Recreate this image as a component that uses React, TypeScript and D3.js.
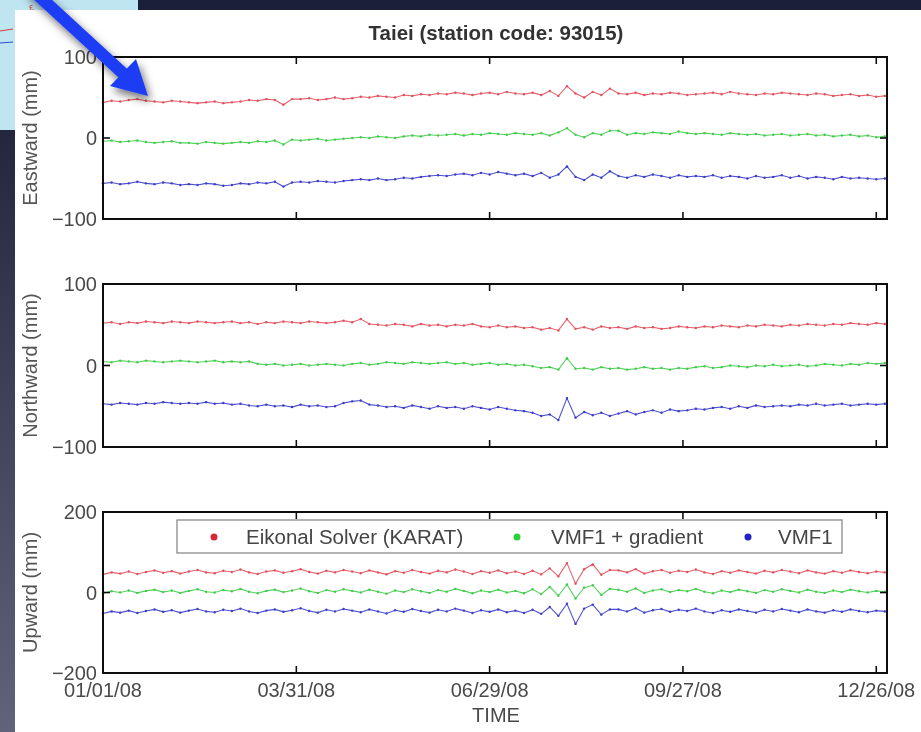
import React from "react";
import * as d3 from "d3";

// ---------- DATA (mm), one sample every 4 days from 01/01/08 ----------
const SAMPLE_STEP_DAYS = 4;
const START_DATE = "01/01/08";
const END_DATE = "12/31/08";

const TITLE = "Taiei (station code: 93015)";
const X_TITLE = "TIME";
const X_TICK_LABELS = ["01/01/08", "03/31/08", "06/29/08", "09/27/08", "12/26/08"];
const PANEL_LABELS = ["Eastward (mm)", "Northward (mm)", "Upward (mm)"];
const PANEL_TICKS = [[-100, 0, 100], [-100, 0, 100], [-200, 0, 200]];
const SERIES_NAMES = ["Eikonal Solver (KARAT)", "VMF1 + gradient", "VMF1"];

const EAST_RED = [
  44, 46, 45, 47, 48, 46, 45, 44, 46, 45,
  44, 43, 44, 45, 43, 44, 45, 47, 46, 48,
  47, 41, 48, 48, 49, 47, 48, 50, 48, 49,
  51, 50, 52, 51, 50, 53, 52, 54, 53, 55,
  54, 56, 55, 53, 55, 56, 54, 57, 55, 54,
  56, 53, 58, 52, 64, 55, 50, 57, 53, 61,
  55, 54, 56, 53, 55, 54, 56, 55, 53, 54,
  55, 56, 54, 57, 55, 54, 53, 55, 54, 56,
  55, 54, 53, 55, 54, 52, 53, 54, 52, 53,
  51, 52,
];
const EAST_GREEN = [
  -4, -3, -5, -4, -3, -5, -6, -5, -4, -6,
  -6, -7, -5, -6, -7, -6, -5, -6, -4, -5,
  -3, -8, -2, -3, -2, -1, -3, -2, -1, 0,
  1, 0, 2, 1, 0, 2, 3, 2, 4, 3,
  4, 5, 3, 5, 4, 6, 5, 4, 6, 5,
  4, 6, 3, 7, 12, 4, 1, 6, 4, 9,
  9, 4, 6, 5, 7, 6, 5, 8, 6, 5,
  6, 5, 4, 6, 5, 4, 5, 3, 4, 5,
  3, 4, 5, 3, 4, 2, 3, 4, 2, 3,
  1, 2,
];
const EAST_BLUE = [
  -56, -55, -57, -56, -54, -56, -57, -55, -56, -58,
  -57, -58, -56, -57, -59, -58, -56, -57, -55, -56,
  -54, -60, -55, -54, -55, -53, -54, -55, -53, -52,
  -51, -52, -50, -52, -51, -49, -50, -48, -47, -46,
  -47, -45, -44, -46, -43, -45, -42, -44, -46, -44,
  -47, -43, -49, -45, -35, -48, -52, -45, -49, -41,
  -47, -49, -46, -48, -45, -47, -49, -46, -48, -47,
  -48, -46, -49, -47, -48, -50, -47, -49, -48, -46,
  -49, -47, -50, -48, -49, -51, -48, -50, -49, -50,
  -51, -50,
];

const NORTH_RED = [
  52, 53, 51, 53, 52, 54, 53, 52, 54, 53,
  52, 54, 53, 52, 53, 54, 52, 53, 51, 53,
  52, 54, 53, 52, 54, 53, 52, 53, 55, 53,
  57, 51, 50, 49, 51, 50, 48, 51, 49, 50,
  48, 50, 49, 51, 48, 47, 49, 47, 48, 46,
  47, 44, 46, 43, 57, 45, 47, 44, 48, 46,
  47, 45, 48, 46, 47, 45, 46, 48, 47, 46,
  48, 47, 49, 48, 47, 49, 48, 50, 49, 48,
  50, 49, 51, 50, 49, 51, 50, 52, 51, 50,
  52, 51,
];
const NORTH_GREEN = [
  5, 4, 6, 5, 4, 6, 5, 4, 5, 6,
  5, 4, 5, 6, 4, 5, 4, 5, 2, 1,
  2, 0, 1, 2, 0, 1, 2, 1, 0, 2,
  3, 1, 2, 4, 3, 2, 4, 3, 2, 3,
  4, 2, 3, 1, 2, 3, 1, 2, 0, 1,
  -1, -3, -2, -5, 9, -4, -3, -5, -2, -4,
  -3, -5, -4, -2, -4, -3, -5, -3, -4, -2,
  -1, -3, -2, 0, -1, -2, 0, -1, 1, -1,
  0, 1, -1, 0, 2, 1, 0, 2, 1, 3,
  2, 3,
];
const NORTH_BLUE = [
  -47, -48, -46, -47, -48, -46, -47, -45, -46, -47,
  -46, -47, -45, -47, -46, -48, -47, -49, -50, -48,
  -50, -49, -51, -48, -50, -49, -51, -50, -46, -44,
  -43, -48, -49, -51, -50, -52, -49, -51, -53, -50,
  -52, -51, -53, -50, -52, -54, -51, -53, -55, -56,
  -58, -62, -60, -67, -40, -64, -57, -61, -58, -62,
  -59, -56, -60, -57, -55, -58, -54, -56, -55, -53,
  -54, -52, -51, -53, -50, -52, -49, -51, -50, -49,
  -50, -48, -49, -47, -49, -48, -47, -49, -48, -47,
  -48, -47,
];

const UP_RED = [
  45, 50, 47, 52, 46, 51, 55, 49, 53, 47,
  52, 56, 50, 48, 54, 51, 57, 50, 46, 52,
  55, 49, 53, 58, 51, 47, 54, 50, 56, 52,
  48, 55, 50, 45, 53, 49, 56, 51, 47, 54,
  50, 57, 52, 46, 53, 49, 55, 48, 52, 46,
  54, 45, 60, 40, 73, 22, 58, 70, 44, 56,
  55, 50, 58, 47, 53, 56, 49, 54, 51, 57,
  50, 46, 53, 49, 55, 51, 47, 54, 50, 56,
  52, 48, 55, 50, 47, 53, 49, 55, 51, 48,
  52, 50,
];
const UP_GREEN = [
  -2, 3, 0, 5, -1, 4, 7, 1, 5, -1,
  4, 8, 2, 0, 6, 3, 9, 2, -2, 4,
  7, 1, 5, 10, 3, -1, 6, 2, 8, 4,
  0, 7, 2, -3, 5, 1, 8, 3, -1, 6,
  2, 9, 4, -2, 5, 1, 7, 0, 4, -2,
  8, -4, 14, -8, 20, -15, 12, 18, -6, 9,
  7, 2, 10, -1, 5, 8, 1, 6, 3, 9,
  2, -2, 5, 1, 7, 3, -1, 6, 2, 8,
  4, 0, 7, 2, -1, 5, 1, 7, 3, 0,
  4, 2,
];
const UP_BLUE = [
  -52, -47, -50, -45, -51, -46, -42, -48, -44, -50,
  -45, -41, -47, -49, -43, -46, -40, -47, -51, -45,
  -42, -48, -44, -39, -46, -50, -43, -47, -41, -45,
  -49, -42, -47, -52, -44, -48, -41, -46, -50, -43,
  -47, -40, -45, -51, -44, -48, -42, -49, -45, -51,
  -43, -53, -36, -58, -28, -78, -40, -30, -55, -42,
  -42, -47, -39, -50, -44, -41, -48, -43, -46, -40,
  -47, -51, -44, -48, -42, -46, -50, -43, -47, -41,
  -45, -49, -42, -47, -50, -44, -48, -42, -46, -49,
  -45, -47,
];

const PANEL_SERIES = [
  [EAST_RED, EAST_GREEN, EAST_BLUE],
  [NORTH_RED, NORTH_GREEN, NORTH_BLUE],
  [UP_RED, UP_GREEN, UP_BLUE],
];

// ---------- LAYOUT / STYLE ----------
const W = 921;
const H = 732;
const PLOT_LEFT = 103;
const PLOT_RIGHT = 887;
const PANEL_BOXES = [
  { top: 57, bottom: 219 },
  { top: 284, bottom: 447 },
  { top: 512, bottom: 673 },
];
const LINE_COLORS = ["#e2505c", "#3fcc4a", "#3c3cca"];
const DOT_COLORS = ["#d42a38", "#2ad03a", "#2424c8"];
const FONT = "'Liberation Sans', Arial, Helvetica, sans-serif";
const TICK_LEN = 7;

const parseDate = d3.utcParse("%m/%d/%y");

export default function App() {
  const start = parseDate(START_DATE) as Date;
  const end = parseDate(END_DATE) as Date;
  const x = d3.scaleUtc().domain([start, end]).range([PLOT_LEFT, PLOT_RIGHT]);
  const dates = EAST_RED.map((_, i) => d3.utcDay.offset(start, i * SAMPLE_STEP_DAYS));
  const xTicks = X_TICK_LABELS.map((s) => parseDate(s) as Date);

  const arrowTip = [148, 96];
  const arrowBase = [123, 73];

  return (
    <svg
      width={W}
      height={H}
      viewBox={`0 0 ${W} ${H}`}
      style={{ position: "fixed", left: 0, top: 0, display: "block" }}
      fontFamily={FONT}
    >
      <defs>
        <linearGradient id="leftBand" x1="0" y1="0" x2="0" y2="1">
          <stop offset="0" stopColor="#23263f" />
          <stop offset="1" stopColor="#60637a" />
        </linearGradient>
        <filter id="soft" x="-5%" y="-5%" width="110%" height="110%">
          <feGaussianBlur stdDeviation="0.45" />
        </filter>
        <filter id="shadow" x="-50%" y="-50%" width="200%" height="200%">
          <feDropShadow dx="3" dy="5" stdDeviation="4" floodColor="#000" floodOpacity="0.55" />
        </filter>
      </defs>

      {/* slide background */}
      <rect x={0} y={0} width={W} height={H} fill="#ffffff" />
      <rect x={0} y={0} width={138} height={130} fill="#bfe5f1" />
      <line x1={0} y1={31} x2={13} y2={29} stroke="#d23a3a" strokeWidth={1} />
      <line x1={0} y1={43} x2={13} y2={42} stroke="#2a4ad0" strokeWidth={1} />
      <text x={30} y={11} fontSize={10} fill="#d23a3a" transform="rotate(-15 30 11)">ε</text>
      <rect x={138} y={0} width={W - 138} height={10} fill="#1c1f38" />
      <rect x={0} y={130} width={15} height={H - 130} fill="url(#leftBand)" />
      <rect x={15} y={10} width={W - 15} height={H - 10} fill="#ffffff" />

      <g filter="url(#soft)">
        <text x={496} y={40} textAnchor="middle" fontSize={20.5} fontWeight="bold" fill="#333">
          {TITLE}
        </text>

        {PANEL_BOXES.map((box, p) => {
          const ticks = PANEL_TICKS[p];
          const y = d3
            .scaleLinear()
            .domain([ticks[0], ticks[ticks.length - 1]])
            .range([box.bottom, box.top]);
          const line = d3
            .line<number>()
            .x((_, i) => x(dates[i]))
            .y((d) => y(d));
          const cy = (box.top + box.bottom) / 2;
          return (
            <g key={p}>
              {PANEL_SERIES[p].map((vals, s) => (
                <g key={s}>
                  <path d={line(vals) || ""} fill="none" stroke={LINE_COLORS[s]} strokeWidth={1.1} opacity={0.9} />
                  {vals.map((v, i) => (
                    <circle key={i} cx={x(dates[i])} cy={y(v)} r={1.2} fill={LINE_COLORS[s]} />
                  ))}
                </g>
              ))}

              {/* frame */}
              <rect
                x={PLOT_LEFT}
                y={box.top}
                width={PLOT_RIGHT - PLOT_LEFT}
                height={box.bottom - box.top}
                fill="none"
                stroke="#111"
                strokeWidth={2}
              />
              {/* x ticks (inward, top and bottom) */}
              {xTicks.map((t, i) => (
                <g key={i}>
                  <line x1={x(t)} x2={x(t)} y1={box.bottom} y2={box.bottom - TICK_LEN} stroke="#111" strokeWidth={1.6} />
                  <line x1={x(t)} x2={x(t)} y1={box.top} y2={box.top + TICK_LEN} stroke="#111" strokeWidth={1.6} />
                </g>
              ))}
              {/* y ticks (inward, left and right) + labels */}
              {ticks.map((t, i) => (
                <g key={i}>
                  <line x1={PLOT_LEFT} x2={PLOT_LEFT + TICK_LEN} y1={y(t)} y2={y(t)} stroke="#111" strokeWidth={1.6} />
                  <line x1={PLOT_RIGHT} x2={PLOT_RIGHT - TICK_LEN} y1={y(t)} y2={y(t)} stroke="#111" strokeWidth={1.6} />
                  <text x={97} y={y(t) + 7} textAnchor="end" fontSize={20} fill="#4a4a4a">
                    {d3.format("d")(t)}
                  </text>
                </g>
              ))}
              <text
                transform={`translate(37 ${cy}) rotate(-90)`}
                textAnchor="middle"
                fontSize={20}
                fill="#555"
              >
                {PANEL_LABELS[p]}
              </text>
            </g>
          );
        })}

        {/* x tick labels on bottom panel */}
        {xTicks.map((t, i) => (
          <text key={i} x={x(t)} y={697} textAnchor="middle" fontSize={20} fill="#4a4a4a">
            {X_TICK_LABELS[i]}
          </text>
        ))}
        <text x={496} y={722} textAnchor="middle" fontSize={20} fill="#4a4a4a">
          {X_TITLE}
        </text>

        {/* legend */}
        <rect x={177} y={520} width={665} height={33} fill="#fff" stroke="#8a8a8a" strokeWidth={1.3} />
        {SERIES_NAMES.map((name, i) => {
          const dotX = [214, 517, 748][i];
          const textX = [246, 551, 778][i];
          return (
            <g key={i}>
              <circle cx={dotX} cy={537} r={3.5} fill={DOT_COLORS[i]} />
              <text x={textX} y={544} fontSize={20.5} fill="#444">
                {name}
              </text>
            </g>
          );
        })}
      </g>

      {/* blue arrow */}
      <g filter="url(#shadow)">
        <line x1={28} y1={-14} x2={arrowBase[0] + 4} y2={arrowBase[1] + 4} stroke="#1e3cf4" strokeWidth={12} />
        <polygon
          points={`${arrowTip[0]},${arrowTip[1]} 110,86 136,59`}
          fill="#1e3cf4"
        />
      </g>
    </svg>
  );
}
